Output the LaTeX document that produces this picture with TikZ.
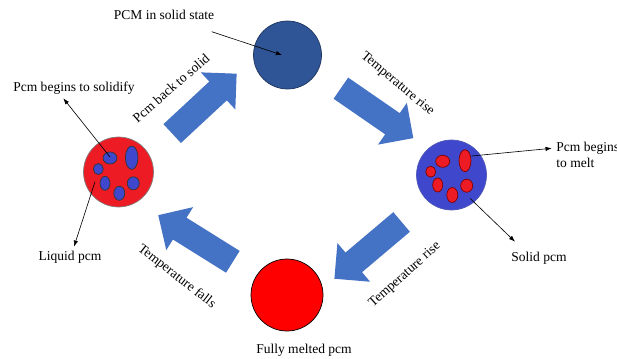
\documentclass[tikz,border=0pt]{standalone}
\usepackage{fontspec}
\setmainfont{Liberation Serif}
\usetikzlibrary{shapes.arrows, arrows.meta}

\definecolor{flowblue}{HTML}{4472C4}
\definecolor{solidblue}{HTML}{2F5597}
\definecolor{mixblue}{HTML}{3F48CC}
\definecolor{mixred}{HTML}{ED1C24}

\tikzset{
    flow/.style={single arrow, fill=flowblue, draw=none, inner xsep=0pt, inner ysep=0.25cm,
        minimum height=1.76cm, minimum width=1cm, single arrow head extend=0.25cm},
    blob/.style={circle, inner sep=0pt, minimum size=1.4cm, line width=0.4pt},
    lbl/.style={font=\fontsize{7.7}{9.5}\selectfont},
    pointer/.style={-{Latex[length=3.5pt,width=2.5pt]}, line width=0.35pt},
}

\begin{document}
\begin{tikzpicture}[x=0.02cm, y=-0.02cm]
    \useasboundingbox (0,0) rectangle (617,358);

    % the four states of the pcm
    \node[blob, fill=solidblue, draw=solidblue!60!black, minimum size=1.36cm] (solid) at (287.5,55) {};
    \node[blob, fill=mixblue, draw=mixblue!70!gray] (melting) at (451.5,175) {};
    \node[blob, fill=red, draw=black, minimum size=1.44cm] (melted) at (287,295) {};
    \node[blob, fill=mixred, draw=gray] (solidifying) at (118.5,172) {};

    % blue solid spots in the liquid
    \begin{scope}[fill=mixblue, draw=black!80]
        \filldraw (110,158) ellipse (7 and 6);
        \filldraw (131.7,157.7) ellipse (6.3 and 11.7);
        \filldraw (98.3,169) ellipse (5 and 5.5);
        \filldraw (105,183.3) ellipse (5 and 7);
        \filldraw (119.3,193.3) ellipse (5.5 and 7);
        \filldraw (133.3,183.3) ellipse (6 and 6.5);
    \end{scope}

    % red liquid spots in the solid
    \begin{scope}[fill=mixred, draw=red!50!black]
        \filldraw (442.7,161.3) ellipse (7 and 6);
        \filldraw (465,160.7) ellipse (6 and 11);
        \filldraw (430.7,171.7) ellipse (5 and 5.5);
        \filldraw (437.7,185) ellipse (5 and 7);
        \filldraw (452.3,195) ellipse (5.5 and 7.5);
        \filldraw (466.7,185.7) ellipse (6 and 6.5);
    \end{scope}

    % big arrows of the cycle
    \node[flow, rotate=42.9] (backsolid) at (199.7,108) {};
    \node[flow, rotate=-34.6] (riseone) at (371.8,109.5) {};
    \node[flow, rotate=220.2] (risetwo) at (372.9,246.2) {};
    \node[flow, rotate=148] (falls) at (201,241.9) {};

    % labels along the arrows
    \node[lbl, rotate=41] (backsolidtxt) at (171,88) {Pcm back to solid};
    \node[lbl, rotate=-40] (riseonetxt) at (397.5,84) {Temperature rise};
    \node[lbl, rotate=42] (risetwotxt) at (405,275) {Temperature rise};
    \node[lbl, rotate=-38] (fallstxt) at (176.7,276.7) {Temperature falls};

    % state labels
    \node[lbl] (solidtxt) at (164,15) {PCM in solid state};
    \node[lbl] (solidifytxt) at (74,88) {Pcm begins to solidify};
    \node[lbl] (liquidtxt) at (70,257) {Liquid pcm};
    \node[lbl, anchor=west, align=left, inner sep=0pt] (melttxt) at (556,155) {Pcm begins\\to melt};
    \node[lbl] (solidpcmtxt) at (539,258) {Solid pcm};
    \node[lbl] (meltedtxt) at (304,350) {Fully melted pcm};

    % pointers
    \coordinate (p1a) at (211.7,31.7);
    \coordinate (p1b) at (282,55);
    \coordinate (p2a) at (110,157);
    \coordinate (p2b) at (63.3,98.3);
    \coordinate (p3a) at (95,181.7);
    \coordinate (p3b) at (74,246.7);
    \coordinate (p4a) at (471.7,156);
    \coordinate (p4b) at (551.7,148.3);
    \coordinate (p5a) at (470,198.3);
    \coordinate (p5b) at (515,241.7);
    \draw[pointer] (p1a) -- (p1b);
    \draw[pointer] (p2a) -- (p2b);
    \draw[pointer] (p3a) -- (p3b);
    \draw[pointer] (p4a) -- (p4b);
    \draw[pointer] (p5a) -- (p5b);

\end{tikzpicture}
\end{document}
